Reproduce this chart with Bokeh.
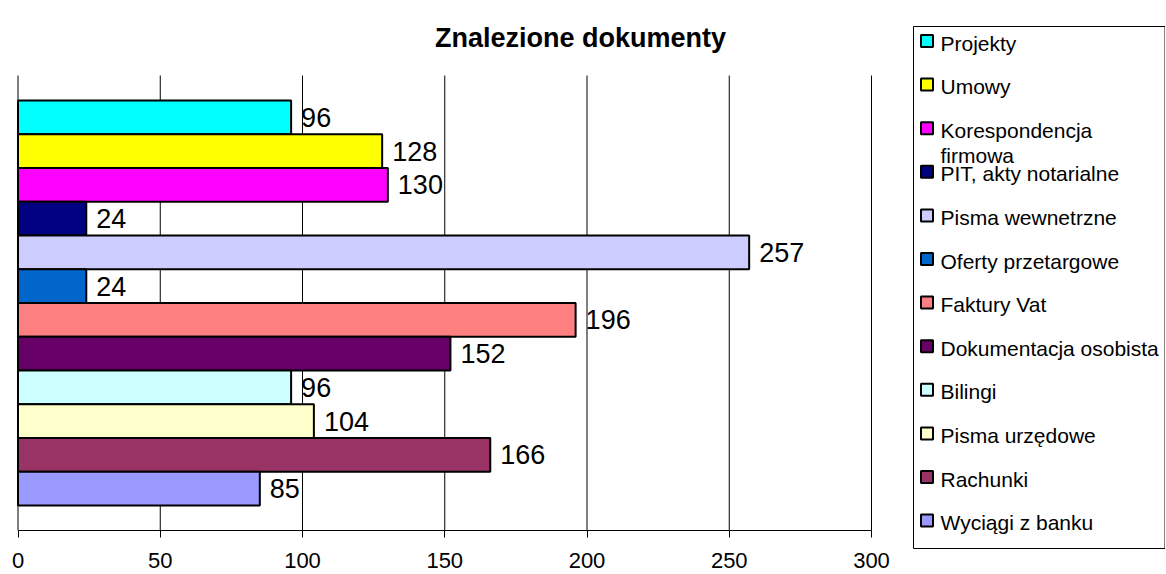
from bokeh.plotting import figure
from bokeh.models import Range1d, FixedTicker, ColumnDataSource, LinearAxis, BoxAnnotation, Label
from bokeh.embed import file_html
from bokeh.resources import INLINE
from bokeh.core.properties import value

title_text = "Znalezione dokumenty"
categories = ["Projekty", "Umowy", "Korespondencja\nfirmowa", "PIT, akty notarialne",
              "Pisma wewnetrzne", "Oferty przetargowe", "Faktury Vat", "Dokumentacja osobista",
              "Bilingi", "Pisma urzędowe", "Rachunki", "Wyciągi z banku"]
counts = [96, 128, 130, 24, 257, 24, 196, 152, 96, 104, 166, 85]
colors = ["#00FFFF", "#FFFF00", "#FF00FF", "#000080", "#CCCCFF", "#0066CC",
          "#FF8080", "#660066", "#CCFFFF", "#FFFFCC", "#993366", "#9999FF"]
x_ticks = [0, 50, 100, 150, 200, 250, 300]

FONT = "Liberation Sans"
n = len(categories)

# ---- layout (pixels) ----
FL, FW, FT, FH = 0, 1165, 25, 548           # frame left / width / top / height
PX_PER_X = (871 - 17.5) / 300.0             # px per count unit
X_ZERO_PX = 17.5
BAR_PITCH = 33.75
BAR_TOP_PX = 100.0                          # top of first bar
LEG_LEFT, LEG_RIGHT, LEG_TOP, LEG_BOTTOM = 913, 1164.5, 26, 548
LEG_FIRST, LEG_PITCH = 40.5, 43.6

x0 = (FL - X_ZERO_PX) / PX_PER_X
x1 = x0 + FW / PX_PER_X
first_c = BAR_TOP_PX + BAR_PITCH / 2        # pixel centre of top bar (value n-1)
def py(px):  # pixel y -> bar-axis value
    return (n - 1) + (first_c - px) / BAR_PITCH
y_range = Range1d(py(FT + FH), py(FT))
plot_lo, plot_hi = py(530), py(75)

def ly(px):  # pixel y -> legend-axis value
    return (LEG_FIRST - px) / LEG_PITCH

p = figure(frame_width=FW, frame_height=FH,
           min_border_left=FL, min_border_right=0, min_border_top=FT, min_border_bottom=0,
           x_range=Range1d(x0, x1), y_range=y_range,
           x_axis_location=None, y_axis_location=None,
           output_backend="svg", toolbar_location=None)
p.extra_x_ranges = {"lg": Range1d(FL - LEG_LEFT, FL + FW - LEG_LEFT)}
p.extra_y_ranges = {"lg": Range1d(ly(FT + FH), ly(FT))}
p.grid.visible = False
p.outline_line_color = None

# gridlines
p.segment(x0=x_ticks, y0=[plot_lo] * len(x_ticks), x1=x_ticks, y1=[plot_hi] * len(x_ticks),
          line_color="black", line_width=1)

# x axis
xa = LinearAxis(ticker=FixedTicker(ticks=x_ticks), fixed_location=plot_lo,
                bounds=(x_ticks[0], x_ticks[-1]))
xa.major_label_text_font = FONT
xa.major_label_text_font_size = "22px"
xa.major_label_text_color = "black"
xa.axis_line_color = "black"
xa.major_tick_line_color = "black"
xa.major_tick_in = 0
xa.major_tick_out = 7
xa.minor_tick_line_color = None
xa.major_label_standoff = 15
p.add_layout(xa, "below")

# bars
pos = [n - 1 - i for i in range(n)]
src = ColumnDataSource(dict(name=categories, count=counts, color=colors, pos=pos,
                            label=[str(c) for c in counts]))
p.hbar(y="pos", left=0, right="count", height=1.0, fill_color="color",
       line_color="black", line_width=2, source=src)
p.text(x="count", y="pos", text="label", x_offset=10, text_baseline="middle",
       text_align="left", text_font=value(FONT), text_font_size="27px",
       text_color="black", source=src)

# title
p.add_layout(Label(x=(580 - X_ZERO_PX) / PX_PER_X, y=py(37), text=title_text,
                   text_align="center", text_baseline="alphabetic",
                   text_font=FONT, text_font_size="27px", text_font_style="bold",
                   text_color="black"))

# legend
p.add_layout(BoxAnnotation(left=0, right=LEG_RIGHT - LEG_LEFT, top=ly(LEG_TOP), bottom=ly(LEG_BOTTOM),
                           x_range_name="lg", y_range_name="lg",
                           fill_color=None, fill_alpha=0, line_color="black", line_width=1,
                           line_alpha=1))
lsrc = ColumnDataSource(dict(name=categories, color=colors, ly=[-i for i in range(n)],
                             kx=[13.5] * n, tx=[27] * n))
p.scatter(x="kx", y="ly", marker="square", size=12, fill_color="color",
          line_color="black", line_width=2, source=lsrc, x_range_name="lg", y_range_name="lg")
p.text(x="tx", y="ly", text="name", text_baseline="top", y_offset=-9.5,
       text_align="left", text_font=value(FONT), text_font_size="21px",
       text_line_height=1.12, text_color="black", source=lsrc,
       x_range_name="lg", y_range_name="lg")

open("out.html", "w").write(file_html(p, INLINE))
